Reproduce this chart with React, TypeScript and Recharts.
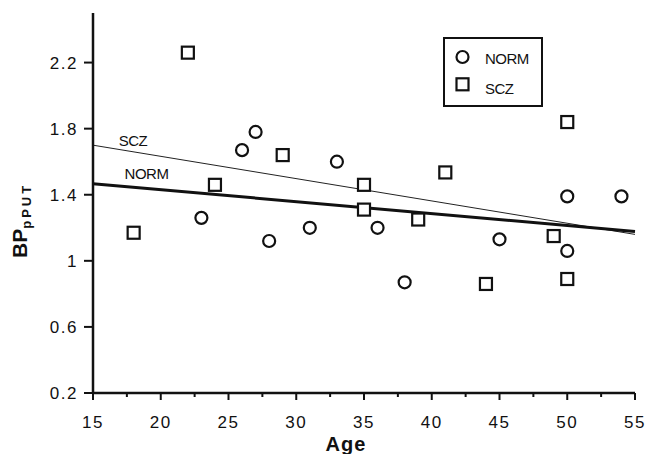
import React from 'react';
import { ScatterChart, Scatter, XAxis, YAxis, ReferenceLine, Legend } from 'recharts';

const normAge = [23, 26, 27, 28, 31, 33, 36, 38, 45, 50, 50, 54];
const normBP = [1.26, 1.67, 1.78, 1.12, 1.2, 1.6, 1.2, 0.87, 1.13, 1.39, 1.06, 1.39];
const sczAge = [18, 22, 24, 29, 35, 35, 39, 41, 44, 49, 50, 50];
const sczBP = [1.17, 2.26, 1.46, 1.64, 1.46, 1.31, 1.25, 1.535, 0.86, 1.15, 1.84, 0.89];

const normFit = [{ x: 15, y: 1.467 }, { x: 55, y: 1.177 }];
const sczFit = [{ x: 15, y: 1.7 }, { x: 55, y: 1.16 }];

const lineLabels = [
  { x: 17.95, y: 1.693, text: 'SCZ' },
  { x: 18.95, y: 1.493, text: 'NORM' },
];

const xTicks = [15, 17.5, 20, 22.5, 25, 27.5, 30, 32.5, 35, 37.5, 40, 42.5, 45, 47.5, 50, 52.5, 55];
const yTicks = [0.2, 0.6, 1, 1.4, 1.8, 2.2];

const FONT = '"Liberation Sans", Arial, Helvetica, sans-serif';

const normData = normAge.map((a, i) => ({ x: a, y: normBP[i] }));
const sczData = sczAge.map((a, i) => ({ x: a, y: sczBP[i] }));

const CircleShape = (p: any) => (
  <circle cx={p.cx} cy={p.cy} r={6} fill="#fff" stroke="#111" strokeWidth={2.2} />
);
const SquareShape = (p: any) => (
  <rect x={p.cx - 6} y={p.cy - 6} width={12} height={12} fill="#fff" stroke="#111" strokeWidth={2.2} />
);
const TextShape = (p: any) => (
  <text x={p.cx} y={p.cy} textAnchor="middle" fontFamily={FONT} fontSize={15} fill="#111" letterSpacing={-0.5}>
    {p.payload.text}
  </text>
);

const XTick = (p: any) => {
  const v = p.payload.value;
  const major = Math.abs(v % 5) < 1e-9;
  return (
    <g>
      <line x1={p.x} x2={p.x} y1={p.y} y2={p.y + (major ? 7 : 4)} stroke="#111" strokeWidth={2} />
      {major && (
        <text x={p.x} y={p.y + 35} textAnchor="middle" fontFamily={FONT} fontSize={17} letterSpacing={1.5} fill="#111">
          {v}
        </text>
      )}
    </g>
  );
};

const YTick = (p: any) => (
  <g>
    <line x1={p.x - 9} x2={p.x} y1={p.y} y2={p.y} stroke="#111" strokeWidth={2} />
    <text x={p.x - 15} y={p.y + 6} textAnchor="end" fontFamily={FONT} fontSize={17} letterSpacing={1.5} fill="#111">
      {p.payload.value}
    </text>
  </g>
);

const LegendBox = () => (
  <div style={{ boxSizing: 'border-box', width: 100, height: 70, border: '2px solid #111', background: '#fff' }}>
    <svg width={96} height={66} style={{ display: 'block' }}>
      <circle cx={17.5} cy={18} r={6} fill="#fff" stroke="#111" strokeWidth={2.2} />
      <text x={40} y={25} fontFamily={FONT} fontSize={15} fill="#111" letterSpacing={-0.5}>NORM</text>
      <rect x={11.5} y={39.3} width={12} height={12} fill="#fff" stroke="#111" strokeWidth={2.2} />
      <text x={40} y={55} fontFamily={FONT} fontSize={15} fill="#111" letterSpacing={-0.5}>SCZ</text>
    </svg>
  </div>
);

export default function App() {
  return (
    <div style={{ position: 'absolute', left: 0, top: 0, background: '#fff' }}>
      <ScatterChart width={649} height={454} margin={{ top: 13, right: 14, left: 0, bottom: 0 }}>
        <XAxis
          type="number"
          dataKey="x"
          domain={[15, 55]}
          ticks={xTicks}
          interval={0}
          height={61}
          tickSize={0}
          tickMargin={0}
          tick={<XTick />}
          axisLine={{ stroke: '#111', strokeWidth: 2.5 }}
          label={{
            content: () => (
              <text x={346} y={451} textAnchor="middle" fontFamily={FONT} fontSize={20} fontWeight="bold" letterSpacing={1} fill="#111">
                Age
              </text>
            ),
          }}
        />
        <YAxis
          type="number"
          dataKey="y"
          domain={[0.2, 2.5]}
          ticks={yTicks}
          interval={0}
          width={93}
          tickSize={0}
          tickMargin={0}
          tick={<YTick />}
          axisLine={{ stroke: '#111', strokeWidth: 2.5 }}
          label={{
            content: () => (
              <text
                x={27}
                y={258}
                transform="rotate(-90, 27, 258)"
                fontFamily={FONT}
                fontWeight="bold"
                fill="#111"
              >
                <tspan fontSize={21}>BP</tspan>
                <tspan fontSize={13} dy={4} letterSpacing={3}>pPUT</tspan>
              </text>
            ),
          }}
        />
        <ReferenceLine segment={sczFit} stroke="#222" strokeWidth={1} ifOverflow="visible" />
        <ReferenceLine segment={normFit} stroke="#111" strokeWidth={3} ifOverflow="visible" />
        <Scatter name="NORM" data={normData} shape={<CircleShape />} isAnimationActive={false} />
        <Scatter name="SCZ" data={sczData} shape={<SquareShape />} isAnimationActive={false} />
        <Scatter name="labels" data={lineLabels} shape={<TextShape />} isAnimationActive={false} legendType="none" />
        <Legend
          layout="vertical"
          align="center"
          verticalAlign="middle"
          content={() => <LegendBox />}
          wrapperStyle={{ position: 'absolute', left: 443, top: 37, width: 100, height: 70 }}
        />
      </ScatterChart>
    </div>
  );
}
